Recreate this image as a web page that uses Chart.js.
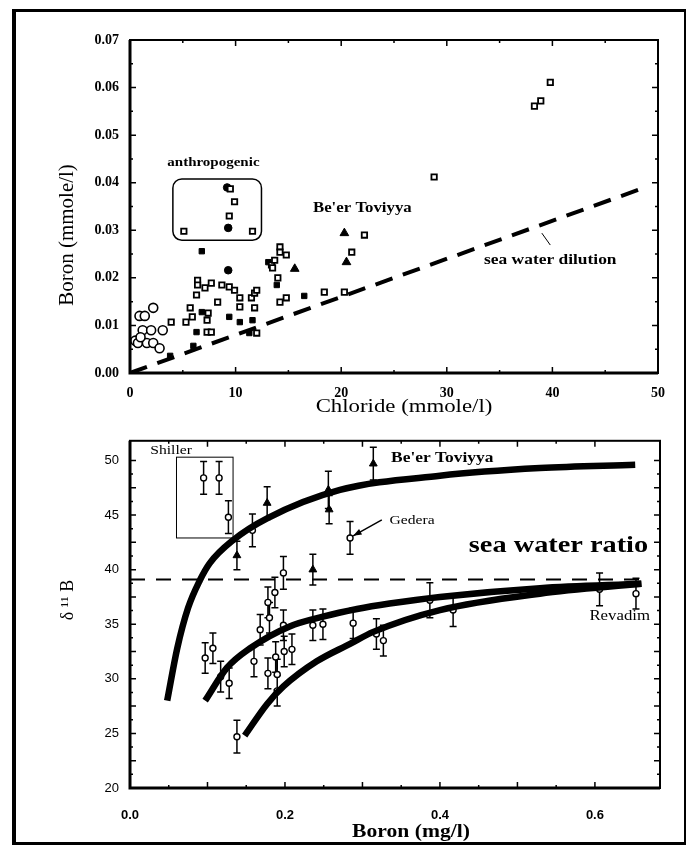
<!DOCTYPE html>
<html>
<head>
<meta charset="utf-8">
<script src="https://cdn.jsdelivr.net/npm/chart.js@4.4.0/dist/chart.umd.min.js"></script>
<style>
  html, body { margin: 0; padding: 0; background: #fff; }
  #page { position: relative; width: 696px; height: 847px; overflow: hidden; }
  #frame { position: absolute; left: 12px; top: 9px; width: 668px; height: 830px;
           border-style: solid; border-color: #000; border-width: 3px 2px 3px 4px; }
  canvas { position: absolute; left: 0; }
  #topChart { top: 0; }
  #bottomChart { top: 430px; }
</style>
</head>
<body>
<div id="page">
  <div id="frame"></div>
  <canvas id="topChart" width="696" height="430"></canvas>
  <canvas id="bottomChart" width="696" height="417"></canvas>
</div>
<script>
// ---- top panel: boron vs chloride (mmole/l) ----
const clTicks = [0, 10, 20, 30, 40, 50];
const bTicks = [0, 0.01, 0.02, 0.03, 0.04, 0.05, 0.06, 0.07];

const clOpenCircle = [0.5, 0.75, 0.9, 1.4, 2.2, 1.2, 2.0, 3.1, 1.6, 2.2, 2.8, 1.0];
const bOpenCircle  = [0.0068, 0.0063, 0.0120, 0.0120, 0.0137, 0.0090, 0.0090, 0.0090, 0.0063, 0.0063, 0.0052, 0.0075];

const clOpenSquare = [3.9, 5.3, 5.7, 5.9, 6.4, 6.4, 6.3, 7.1, 7.7, 7.3, 7.7, 7.3, 7.4, 8.3, 8.7, 9.4, 9.9,
                      10.4, 10.4, 11.5, 11.8, 12.0, 11.8, 12.0, 13.4, 13.7, 14.2, 14.2, 14.8, 13.5, 14.0,
                      14.2, 14.8, 18.4, 20.3, 22.2, 21.0, 28.8, 38.3, 38.9, 39.8,
                      5.1, 11.6, 9.4, 9.9, 9.5];
const bOpenSquare  = [0.0107, 0.0107, 0.0137, 0.0118, 0.0195, 0.0185, 0.0164, 0.0179, 0.0189, 0.0086, 0.0086, 0.0111, 0.0126, 0.0149, 0.0185, 0.0181, 0.0174,
                      0.0158, 0.0139, 0.0158, 0.0168, 0.0174, 0.0137, 0.0084, 0.0227, 0.0237, 0.0265, 0.0254, 0.0248, 0.0221, 0.0200,
                      0.0149, 0.0158, 0.0170, 0.0170, 0.0290, 0.0254, 0.0412, 0.0561, 0.0572, 0.0611,
                      0.0298, 0.0298, 0.0330, 0.0360, 0.0387];

const clFilledSquare = [3.8, 6.0, 6.3, 6.8, 6.8, 9.4, 10.4, 11.3, 11.6, 13.1, 13.9, 16.5];
const bFilledSquare  = [0.0036, 0.0057, 0.0086, 0.0256, 0.0128, 0.0118, 0.0107, 0.0084, 0.0111, 0.0233, 0.0185, 0.0162];

const clFilledCircle = [9.3, 9.3, 9.2];
const bFilledCircle  = [0.0216, 0.0305, 0.0390];

const clTriangle = [15.6, 20.3, 20.5];
const bTriangle  = [0.0219, 0.0294, 0.0233];

const clDilution = [0, 49];
const bDilution  = [0, 0.0392];

// ---- bottom panel: delta 11B vs boron (mg/l) ----
const boronTicks = [0, 0.2, 0.4, 0.6];
const deltaTicks = [20, 25, 30, 35, 40, 45, 50];

const boronOpen = [0.095, 0.115, 0.127, 0.158, 0.198, 0.187, 0.178, 0.180, 0.198, 0.168, 0.236, 0.249, 0.288, 0.284,
                   0.387, 0.417, 0.318, 0.327, 0.606, 0.653,
                   0.097, 0.107, 0.117, 0.128, 0.138, 0.160, 0.178, 0.188, 0.190, 0.190, 0.199, 0.209];
const deltaOpen = [48.4, 48.4, 44.8, 43.6, 39.7, 37.9, 37.0, 35.6, 34.9, 34.5, 34.9, 35.0, 35.1, 42.9,
                   37.2, 36.3, 34.1, 33.5, 38.2, 37.8,
                   31.9, 32.8, 30.2, 29.6, 24.7, 31.6, 30.5, 32.0, 30.4, 28.9, 32.5, 32.7];
const errOpen   = [1.5, 1.5, 1.5, 1.5, 1.5, 1.4, 1.4, 1.4, 1.4, 1.4, 1.4, 1.4, 1.4, 1.5,
                   1.6, 1.5, 1.4, 1.4, 1.5, 1.4,
                   1.4, 1.4, 1.4, 1.4, 1.5, 1.4, 1.4, 1.4, 1.4, 1.4, 1.4, 1.4];

const boronTri = [0.138, 0.177, 0.256, 0.257, 0.236, 0.314];
const deltaTri = [41.3, 46.1, 47.3, 45.5, 40.0, 49.7];
const errTri   = [1.3, 1.5, 1.7, 1.3, 1.4, 1.5];

const boronCurveA = [0.048, 0.061, 0.075, 0.090, 0.103, 0.133, 0.177, 0.271, 0.400, 0.529, 0.652];
const deltaCurveA = [28.0, 32.8, 36.5, 39.0, 40.6, 42.7, 44.7, 47.3, 48.6, 49.3, 49.6];
const boronCurveB = [0.097, 0.125, 0.155, 0.206, 0.249, 0.293, 0.335, 0.400, 0.529, 0.660];
const deltaCurveB = [28.0, 31.0, 32.8, 34.8, 35.7, 36.4, 36.9, 37.5, 38.3, 38.7];
const boronCurveC = [0.148, 0.177, 0.198, 0.241, 0.284, 0.314, 0.400, 0.529, 0.660];
const deltaCurveC = [24.8, 27.7, 29.3, 31.6, 33.2, 34.3, 36.3, 37.8, 38.7];

const boronSeaRatio = [0, 0.66];
const deltaSeaRatio = [39.1, 39.1];

// helpers
function pts(xs, ys) { return xs.map((x, i) => ({ x: x, y: ys[i] })); }

function text(ctx, str, x, y, font, sx, rot) {
    ctx.save();
    ctx.translate(x, y);
    if (rot) ctx.rotate(rot);
    ctx.scale(sx || 1, 1);
    ctx.font = font;
    ctx.fillStyle = '#000';
    ctx.textAlign = 'center';
    ctx.textBaseline = 'middle';
    ctx.fillText(str, 0, 0);
    ctx.restore();
}

// plot box plus inward tick marks (major + midpoint minors)
function drawBox(chart) {
    const ctx = chart.ctx, a = chart.chartArea;
    const xs = chart.scales.x, ys = chart.scales.y;
    ctx.save();
    ctx.strokeStyle = '#000';
    ctx.lineWidth = 2;
    ctx.strokeRect(a.left, a.top, a.right - a.left, a.bottom - a.top);
    ctx.lineWidth = 3;
    ctx.beginPath();
    ctx.moveTo(a.left, a.top); ctx.lineTo(a.left, a.bottom); ctx.lineTo(a.right, a.bottom);
    ctx.stroke();

    ctx.lineWidth = 1.5;
    ctx.beginPath();
    const vx = xs.ticks.map(t => t.value);
    vx.forEach((v, i) => {
        const p = xs.getPixelForValue(v);
        ctx.moveTo(p, a.bottom); ctx.lineTo(p, a.bottom - 6);
        ctx.moveTo(p, a.top); ctx.lineTo(p, a.top + 6);
        if (i < vx.length - 1) {
            const m = xs.getPixelForValue((v + vx[i + 1]) / 2);
            ctx.moveTo(m, a.bottom); ctx.lineTo(m, a.bottom - 3);
            ctx.moveTo(m, a.top); ctx.lineTo(m, a.top + 3);
        }
    });
    const vy = ys.ticks.map(t => t.value);
    vy.forEach((v, i) => {
        const p = ys.getPixelForValue(v);
        ctx.moveTo(a.left, p); ctx.lineTo(a.left + 6, p);
        ctx.moveTo(a.right, p); ctx.lineTo(a.right - 6, p);
        if (i < vy.length - 1) {
            const m = ys.getPixelForValue((v + vy[i + 1]) / 2);
            ctx.moveTo(a.left, m); ctx.lineTo(a.left + 3, m);
            ctx.moveTo(a.right, m); ctx.lineTo(a.right - 3, m);
        }
    });
    ctx.stroke();
    ctx.restore();
}

function roundBox(ctx, x0, y0, x1, y1, r) {
    ctx.beginPath();
    ctx.moveTo(x0 + r, y0);
    ctx.arcTo(x1, y0, x1, y1, r);
    ctx.arcTo(x1, y1, x0, y1, r);
    ctx.arcTo(x0, y1, x0, y0, r);
    ctx.arcTo(x0, y0, x1, y0, r);
    ctx.closePath();
    ctx.stroke();
}

const errorBars = {
    id: 'errorBars',
    beforeDatasetsDraw(chart) {
        const ctx = chart.ctx, ys = chart.scales.y;
        chart.data.datasets.forEach((ds, i) => {
            if (!ds.errors) return;
            const meta = chart.getDatasetMeta(i);
            ctx.save();
            ctx.strokeStyle = '#000';
            ctx.lineWidth = 1.5;
            ctx.beginPath();
            meta.data.forEach((el, j) => {
                const v = ds.data[j].y, e = ds.errors[j];
                const t = ys.getPixelForValue(v + e), b = ys.getPixelForValue(v - e);
                ctx.moveTo(el.x, t); ctx.lineTo(el.x, b);
                ctx.moveTo(el.x - 3.5, t); ctx.lineTo(el.x + 3.5, t);
                ctx.moveTo(el.x - 3.5, b); ctx.lineTo(el.x + 3.5, b);
            });
            ctx.stroke();
            ctx.restore();
        });
    }
};

const topNotes = {
    id: 'topNotes',
    afterDraw(chart) {
        const ctx = chart.ctx;
        const X = v => chart.scales.x.getPixelForValue(v);
        const Y = v => chart.scales.y.getPixelForValue(v);
        drawBox(chart);
        ctx.save();
        ctx.strokeStyle = '#000';
        ctx.lineWidth = 1.5;
        roundBox(ctx, X(4.06), Y(0.0408), X(12.45), Y(0.0279), 9);
        ctx.lineWidth = 1;
        ctx.beginPath();
        ctx.moveTo(X(39.0), Y(0.0294)); ctx.lineTo(X(39.8), Y(0.0269));
        ctx.stroke();
        ctx.restore();
        text(ctx, 'anthropogenic', X(7.9), Y(0.0441), 'bold 12.5px "Liberation Serif"', 1.2);
        text(ctx, "Be'er Toviyya", X(22.0), Y(0.0347), 'bold 14px "Liberation Serif"', 1.2);
        text(ctx, 'sea water dilution', X(39.8), Y(0.0237), 'bold 14.5px "Liberation Serif"', 1.2);
        text(ctx, 'Boron (mmole/l)', 67, 235, '21px "Liberation Serif"', 1, -Math.PI / 2);
        text(ctx, 'Chloride (mmole/l)', 404, 407, '19px "Liberation Serif"', 1.2);
    }
};

const bottomNotes = {
    id: 'bottomNotes',
    afterDraw(chart) {
        const ctx = chart.ctx;
        const X = v => chart.scales.x.getPixelForValue(v);
        const Y = v => chart.scales.y.getPixelForValue(v);
        drawBox(chart);
        ctx.save();
        ctx.strokeStyle = '#000';
        ctx.lineWidth = 1;
        ctx.strokeRect(X(0.06), Y(50.3), X(0.133) - X(0.06), Y(42.9) - Y(50.3));
        // Gedera arrow
        const x0 = X(0.325), y0 = Y(44.55), x1 = X(0.288), y1 = Y(43.1);
        const ang = Math.atan2(y1 - y0, x1 - x0);
        ctx.lineWidth = 1.5;
        ctx.beginPath();
        ctx.moveTo(x0, y0); ctx.lineTo(x1, y1);
        ctx.stroke();
        ctx.beginPath();
        ctx.moveTo(x1, y1);
        ctx.lineTo(x1 - 9 * Math.cos(ang - 0.35), y1 - 9 * Math.sin(ang - 0.35));
        ctx.lineTo(x1 - 9 * Math.cos(ang + 0.35), y1 - 9 * Math.sin(ang + 0.35));
        ctx.closePath();
        ctx.fillStyle = '#000';
        ctx.fill();
        ctx.restore();
        text(ctx, 'Shiller', X(0.053), Y(50.9), '13px "Liberation Serif"', 1.2);
        text(ctx, "Be'er Toviyya", X(0.403), Y(50.2), 'bold 14.5px "Liberation Serif"', 1.2);
        text(ctx, 'Gedera', X(0.364), Y(44.5), '13px "Liberation Serif"', 1.2);
        text(ctx, 'sea water ratio', X(0.553), Y(42.2), 'bold 24px "Liberation Serif"', 1.18);
        text(ctx, 'Revadim', X(0.632), Y(35.7), '14px "Liberation Serif"', 1.2);
        text(ctx, 'δ ¹¹ B', 68, 170, '18px "Liberation Serif"', 1, -Math.PI / 2);
        text(ctx, 'Boron (mg/l)', 411, 402, 'bold 18px "Liberation Serif"', 1.2);
    }
};

function isMajor(list, v) { return list.some(t => Math.abs(t - v) < 1e-9); }

// Top chart
new Chart(document.getElementById('topChart'), {
    type: 'scatter',
    data: {
        datasets: [
            { data: pts(clDilution, bDilution), showLine: true, pointRadius: 0,
              borderColor: '#000', borderWidth: 4, borderDash: [18, 11] },
            { data: pts(clOpenCircle, bOpenCircle), pointStyle: 'circle', pointRadius: 4.5,
              pointBorderWidth: 1.6, pointBackgroundColor: '#fff', pointBorderColor: '#000' },
            { data: pts(clOpenSquare, bOpenSquare), pointStyle: 'rect', pointRadius: 3.8,
              pointBorderWidth: 1.8, pointBackgroundColor: '#fff', pointBorderColor: '#000' },
            { data: pts(clFilledSquare, bFilledSquare), pointStyle: 'rect', pointRadius: 3.8,
              pointBorderWidth: 1, pointBackgroundColor: '#000', pointBorderColor: '#000' },
            { data: pts(clFilledCircle, bFilledCircle), pointStyle: 'circle', pointRadius: 3.8,
              pointBorderWidth: 1, pointBackgroundColor: '#000', pointBorderColor: '#000' },
            { data: pts(clTriangle, bTriangle), pointStyle: 'triangle', pointRadius: 5,
              pointBorderWidth: 1, pointBackgroundColor: '#000', pointBorderColor: '#000' }
        ]
    },
    options: {
        responsive: false,
        animation: false,
        events: [],
        layout: { padding: { left: 0, right: 38, top: 40, bottom: 0 } },
        plugins: { legend: { display: false }, tooltip: { enabled: false } },
        scales: {
            x: {
                type: 'linear', min: 0, max: 50,
                afterBuildTicks: s => { s.ticks = clTicks.map(v => ({ value: v })); },
                afterFit: s => { s.height = 57; },
                grid: { display: false }, border: { display: false },
                ticks: { color: '#000', padding: 4, maxRotation: 0,
                         font: { family: 'Liberation Serif', size: 14, weight: 'bold' },
                         callback: v => String(v) }
            },
            y: {
                type: 'linear', min: 0, max: 0.07,
                afterBuildTicks: s => { s.ticks = bTicks.map(v => ({ value: v })); },
                afterFit: s => { s.width = 130; },
                grid: { display: false }, border: { display: false },
                ticks: { color: '#000', padding: 3,
                         font: { family: 'Liberation Serif', size: 14, weight: 'bold' },
                         callback: v => v.toFixed(2) }
            }
        }
    },
    plugins: [topNotes]
});

// Bottom chart
new Chart(document.getElementById('bottomChart'), {
    type: 'scatter',
    data: {
        datasets: [
            { data: pts(boronSeaRatio, deltaSeaRatio), showLine: true, pointRadius: 0,
              borderColor: '#000', borderWidth: 2, borderDash: [15, 11] },
            { data: pts(boronCurveA, deltaCurveA), showLine: true, pointRadius: 0,
              borderColor: '#000', borderWidth: 6.5, cubicInterpolationMode: 'monotone' },
            { data: pts(boronCurveB, deltaCurveB), showLine: true, pointRadius: 0,
              borderColor: '#000', borderWidth: 6.5, cubicInterpolationMode: 'monotone' },
            { data: pts(boronCurveC, deltaCurveC), showLine: true, pointRadius: 0,
              borderColor: '#000', borderWidth: 6.5, cubicInterpolationMode: 'monotone' },
            { data: pts(boronOpen, deltaOpen), errors: errOpen, pointStyle: 'circle', pointRadius: 3,
              pointBorderWidth: 1.4, pointBackgroundColor: '#fff', pointBorderColor: '#000' },
            { data: pts(boronTri, deltaTri), errors: errTri, pointStyle: 'triangle', pointRadius: 4.5,
              pointBorderWidth: 1, pointBackgroundColor: '#000', pointBorderColor: '#000' }
        ]
    },
    options: {
        responsive: false,
        animation: false,
        events: [],
        layout: { padding: { left: 0, right: 36, top: 7, bottom: 0 } },
        plugins: { legend: { display: false }, tooltip: { enabled: false } },
        scales: {
            x: {
                type: 'linear', min: 0, max: 0.684,
                afterBuildTicks: s => {
                    s.ticks = [0, 0.1, 0.2, 0.3, 0.4, 0.5, 0.6].map(v => ({ value: v }));
                },
                afterFit: s => { s.height = 59; },
                grid: { display: false }, border: { display: false },
                ticks: { color: '#000', padding: 12, maxRotation: 0, autoSkip: false,
                         font: { family: 'Liberation Sans', size: 13, weight: 'bold' },
                         callback: v => isMajor(boronTicks, v) ? v.toFixed(1) : '' }
            },
            y: {
                type: 'linear', min: 20, max: 51.8,
                afterBuildTicks: s => {
                    s.ticks = [20, 22.5, 25, 27.5, 30, 32.5, 35, 37.5, 40, 42.5, 45, 47.5, 50].map(v => ({ value: v }));
                },
                afterFit: s => { s.width = 130; },
                grid: { display: false }, border: { display: false },
                ticks: { color: '#000', padding: 3, autoSkip: false,
                         font: { family: 'Liberation Sans', size: 13 },
                         callback: v => isMajor(deltaTicks, v) ? String(v) : '' }
            }
        }
    },
    plugins: [errorBars, bottomNotes]
});
</script>
</body>
</html>
